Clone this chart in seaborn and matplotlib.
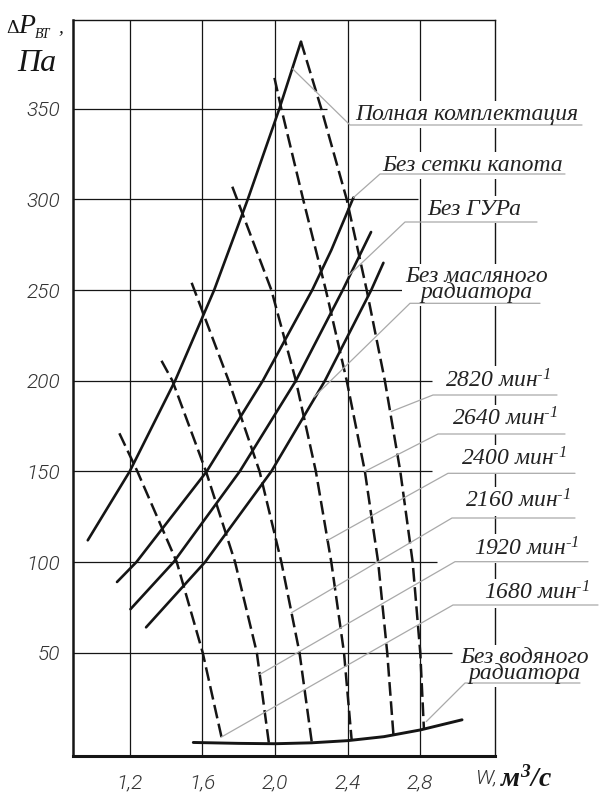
import matplotlib
matplotlib.use("Agg")
import matplotlib.pyplot as plt
from matplotlib.font_manager import FontProperties
import seaborn as sns

# ---------------------------------------------------------------------------
# Air-path resistance curves: W (m3/s) vs pressure drop dP (Pa)
# ---------------------------------------------------------------------------
full_x = [0.969, 1.2, 1.45, 1.665, 1.85, 2.024, 2.143]
full_y = [112, 150, 200, 250, 300, 350, 387]

no_grille_x = [1.13, 1.237, 1.624, 1.933, 2.205, 2.31, 2.432]
no_grille_y = [89, 100, 150, 200, 250, 272, 301]

no_steer_x = [1.204, 1.442, 1.806, 2.115, 2.373, 2.529]
no_steer_y = [74, 100, 150, 200, 250, 282]

no_oil_x = [1.29, 1.615, 1.98, 2.275, 2.53, 2.597]
no_oil_y = [64, 100, 150, 200, 250, 265]

no_water_x = [1.55, 1.8, 2.0, 2.2, 2.4, 2.6, 2.8, 3.03]
no_water_y = [0.5, 0.0, -0.2, 0.3, 1.5, 3.7, 7.4, 13]

# Fan characteristics at constant speed (rpm)
fan1680_x = [1.143, 1.242, 1.355, 1.459, 1.602, 1.712]
fan1680_y = [171, 150, 124, 100, 50, 0.5]
fan1920_x = [1.375, 1.435, 1.62, 1.78, 1.9, 1.966]
fan1920_y = [211, 200, 150, 100, 50, 0.4]
fan2160_x = [1.541, 1.745, 1.915, 2.035, 2.135, 2.202]
fan2160_y = [254, 200, 150, 100, 50, 1]
fan2400_x = [1.765, 1.98, 2.115, 2.225, 2.31, 2.38, 2.422]
fan2400_y = [307, 250, 200, 150, 100, 50, 2]
fan2640_x = [1.997, 2.035, 2.155, 2.28, 2.395, 2.495, 2.568, 2.618, 2.652]
fan2640_y = [367, 350, 300, 250, 200, 150, 100, 50, 5]
fan2820_x = [2.143, 2.255, 2.395, 2.505, 2.605, 2.69, 2.758, 2.80, 2.82]
fan2820_y = [387, 350, 300, 250, 200, 150, 100, 50, 8]

x_ticks = [1.2, 1.6, 2.0, 2.4, 2.8]
x_tick_labels = ["1,2", "1,6", "2,0", "2,4", "2,8"]
y_ticks = [50, 100, 150, 200, 250, 300, 350]
y_tick_labels = ["50", "100", "150", "200", "250", "300", "350"]
# right end of each horizontal grid line (stops short of the captions)
y_grid_end = [2.975, 2.892, 2.865, 2.865, 2.7435, 2.788, 2.2865]

config_labels = ["Полная комплектация", "Без сетки капота", "Без ГУРа",
                 "Без масляного\nрадиатора", "Без водяного\nрадиатора"]
rpm_labels = ["2820", "2640", "2400", "2160", "1920", "1680"]
rpm_unit = " мин$^{‐1}$"

# ---------------------------------------------------------------------------
W_PX, H_PX = 599, 792
sns.set_style("white")
plt.rcParams["mathtext.default"] = "regular"

fig = plt.figure(figsize=(W_PX / 100, H_PX / 100), dpi=100)
ax = fig.add_axes([72.7 / W_PX, 1 - 755.7 / H_PX,
                   (495 - 72.7) / W_PX, (755.7 - 19.5) / H_PX])
ax.set_xlim(0.886, 3.2115)
ax.set_ylim(-6.8, 399.2)

INK = "#151515"
LEAD = "#a9a9a9"
TXT = "#222222"
serif_it = FontProperties(family="Liberation Serif", style="italic", size=17)
tick_fp = FontProperties(family="Roboto", style="italic", weight=300, size=15)


def to_data(px, py):
    return ax.transData.inverted().transform((px, H_PX - py))


def fig_xy(px, py):
    return px / W_PX, 1 - py / H_PX


# grid
for xv in x_ticks:
    ax.axvline(xv, color=INK, lw=0.9, zorder=1)
for yv, xe in zip(y_ticks, y_grid_end):
    ax.hlines(yv, 0.886, xe, color=INK, lw=0.9, zorder=1)

# system resistance curves (solid)
for cx, cy in [(full_x, full_y), (no_grille_x, no_grille_y),
               (no_steer_x, no_steer_y), (no_oil_x, no_oil_y)]:
    sns.lineplot(x=cx, y=cy, ax=ax, color=INK, lw=1.9, sort=False,
                 estimator=None, zorder=3)
sns.lineplot(x=no_water_x, y=no_water_y, ax=ax, color=INK, lw=2.1,
             sort=False, estimator=None, zorder=3)

# fan curves (dashed)
for cx, cy in [(fan1680_x, fan1680_y), (fan1920_x, fan1920_y),
               (fan2160_x, fan2160_y), (fan2400_x, fan2400_y),
               (fan2640_x, fan2640_y), (fan2820_x, fan2820_y)]:
    sns.lineplot(x=cx, y=cy, ax=ax, color=INK, lw=1.8, sort=False,
                 estimator=None, zorder=3, linestyle=(0, (5.5, 2.2)))

# axes frame and ticks
for side, w in [("left", 1.8), ("bottom", 2.2), ("top", 1.0), ("right", 1.0)]:
    ax.spines[side].set_linewidth(w)
    ax.spines[side].set_color(INK)
ax.set_xticks(x_ticks, labels=x_tick_labels)
ax.set_yticks(y_ticks, labels=y_tick_labels)
ax.tick_params(axis="both", direction="in", length=6.5, width=1.6, color=INK,
               labelcolor="#333333")
ax.tick_params(axis="x", pad=13)
ax.tick_params(axis="y", pad=9)
for lbl in ax.get_xticklabels() + ax.get_yticklabels():
    lbl.set_fontproperties(tick_fp)
ax.set_xlabel("")
ax.set_ylabel("")


# captions: white mask under the words, underline and leader to the curve
# (baseline given for the last line of the caption)
def callout(text, cx, baseline, ul_y, ul_x0, ul_x1, target):
    x, y = to_data(cx, baseline)
    style = dict(ha="center", va="baseline", multialignment="center",
                 linespacing=0.66, fontproperties=serif_it, clip_on=False)
    ax.text(x, y, text, color=(1, 1, 1, 0), zorder=4,
            bbox=dict(boxstyle="square,pad=0.12", fc="white", ec="none"),
            **style)
    ax.text(x, y, text, color=TXT, zorder=5.5, **style)
    a = to_data(ul_x1, ul_y)
    b = to_data(ul_x0, ul_y)
    ax.plot([a[0], b[0], target[0]], [a[1], b[1], target[1]], color=LEAD,
            lw=0.9, zorder=5, clip_on=False)


callout(config_labels[0], 466.5, 120, 125, 350, 582, (2.097, 372))
callout(config_labels[1], 472.5, 171, 174, 380, 565, (no_grille_x[-1], no_grille_y[-1]))
callout(config_labels[2], 474, 215, 222, 405, 537, (2.405, 258))
callout(config_labels[3], 476.5, 298, 303.3, 410, 540, (2.215, 191))
callout(rpm_labels[0] + rpm_unit, 497.5, 387, 395, 433, 557, (2.64, 183))
callout(rpm_labels[1] + rpm_unit, 504.5, 426, 434, 438, 565, (2.495, 150))
callout(rpm_labels[2] + rpm_unit, 513.5, 466, 473.3, 448, 575, (2.29, 112))
callout(rpm_labels[3] + rpm_unit, 517.5, 508, 518, 452, 575, (2.09, 72))
callout(rpm_labels[4] + rpm_unit, 526.5, 555, 561.7, 455, 588, (1.916, 38))
callout(rpm_labels[5] + rpm_unit, 536.5, 600, 605, 453, 598, (1.705, 3.5))
callout(config_labels[4], 524.5, 679, 683, 465, 580, (2.833, 12))

# axis titles
serif = "Liberation Serif"
fig.text(*fig_xy(6, 33), "Δ", family=serif, size=14, color=INK, va="baseline")
fig.text(*fig_xy(18, 33), "P", family=serif, style="italic", size=20,
         color=INK, va="baseline")
fig.text(*fig_xy(35, 38), "ВТ", family=serif, style="italic", size=10,
         color=INK, va="baseline")
fig.text(*fig_xy(58, 32), ",", family=serif, style="italic", size=14,
         color=INK, va="baseline")
fig.text(*fig_xy(17, 71), "Па", family=serif, style="italic", size=23,
         color=INK, va="baseline")

fig.text(*fig_xy(475, 783), "W,", fontproperties=tick_fp, color="#333333",
         va="baseline")
fig.text(*fig_xy(500, 787), "м$^{3}$/с", family=serif, style="italic",
         weight="bold", size=20, color=INK, va="baseline")

fig.savefig("out.png", dpi=100)
